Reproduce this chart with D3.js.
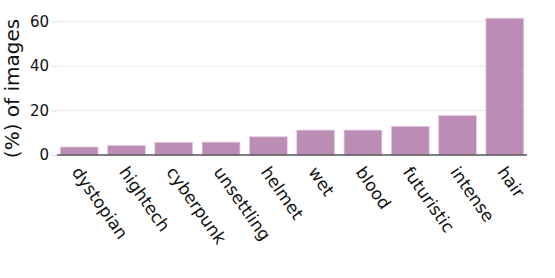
<!DOCTYPE html>
<html><head><meta charset="utf-8">
<script src="https://cdn.jsdelivr.net/npm/d3@7"></script>
<style>body{margin:0;background:#fff}svg{display:block;font-family:"DejaVu Sans",sans-serif}</style>
</head><body><svg id="c" width="555" height="278"></svg>
<script>
const categories = ["dystopian","hightech","cyberpunk","unsettling","helmet","wet","blood","futuristic","intense","hair"];
const values = [3.6, 4.3, 5.7, 5.8, 8.2, 11.2, 11.2, 12.9, 17.8, 61.5];
const yTicks = [0, 20, 40, 60];
const yLabel = "(%) of images";

const svg = d3.select("#c");
const plotL = 57, plotR = 527;
const x = d3.scaleBand().domain(categories).range([55.5, 528.5]).paddingInner(0.2).paddingOuter(0.1);
const y = d3.scaleLinear().domain([0, 60]).range([155, 21.5]);

// grid
svg.append("g").selectAll("line").data(yTicks.filter(d=>d>0)).join("line")
  .attr("x1", plotL).attr("x2", plotR).attr("y1", d=>y(d)).attr("y2", d=>y(d))
  .attr("stroke", "#ebebeb").attr("stroke-width", 1);

// y axis
const ya = svg.append("g").attr("transform", `translate(${plotL},0)`)
  .call(d3.axisLeft(y).tickValues(yTicks).tickSize(5).tickPadding(3));
ya.select(".domain").remove();
ya.selectAll(".tick line").attr("stroke", "#dddddd");
ya.selectAll(".tick text").attr("font-size", 15).attr("fill", "#111").attr("font-family", "DejaVu Sans");

// bars
svg.append("g").selectAll("rect").data(categories).join("rect")
  .attr("x", d=>x(d)).attr("width", x.bandwidth())
  .attr("y", (d,i)=>y(values[i])).attr("height", (d,i)=>y(0)-y(values[i]))
  .attr("fill", "#bb8db5").attr("stroke", "#e3cde0").attr("stroke-width", 0.8);

// x axis
const xa = svg.append("g").attr("transform", `translate(0,${y(0)})`)
  .call(d3.axisBottom(x).tickSize(0));
xa.select(".domain").attr("stroke", "#555").attr("stroke-width", 1.5).attr("d", `M${plotL},0H${plotR}`);
xa.selectAll(".tick text").attr("font-size", 17).attr("fill", "#111").attr("font-family", "DejaVu Sans")
  .attr("text-anchor", "start").attr("x", 0).attr("y", 0).attr("dy", 0)
  .attr("transform", "translate(-8,17) rotate(55)");

svg.append("text").attr("transform", `translate(19,88.5) rotate(-90)`)
  .attr("text-anchor", "middle").attr("font-size", 20).attr("fill", "#111").text(yLabel);
</script></body></html>
